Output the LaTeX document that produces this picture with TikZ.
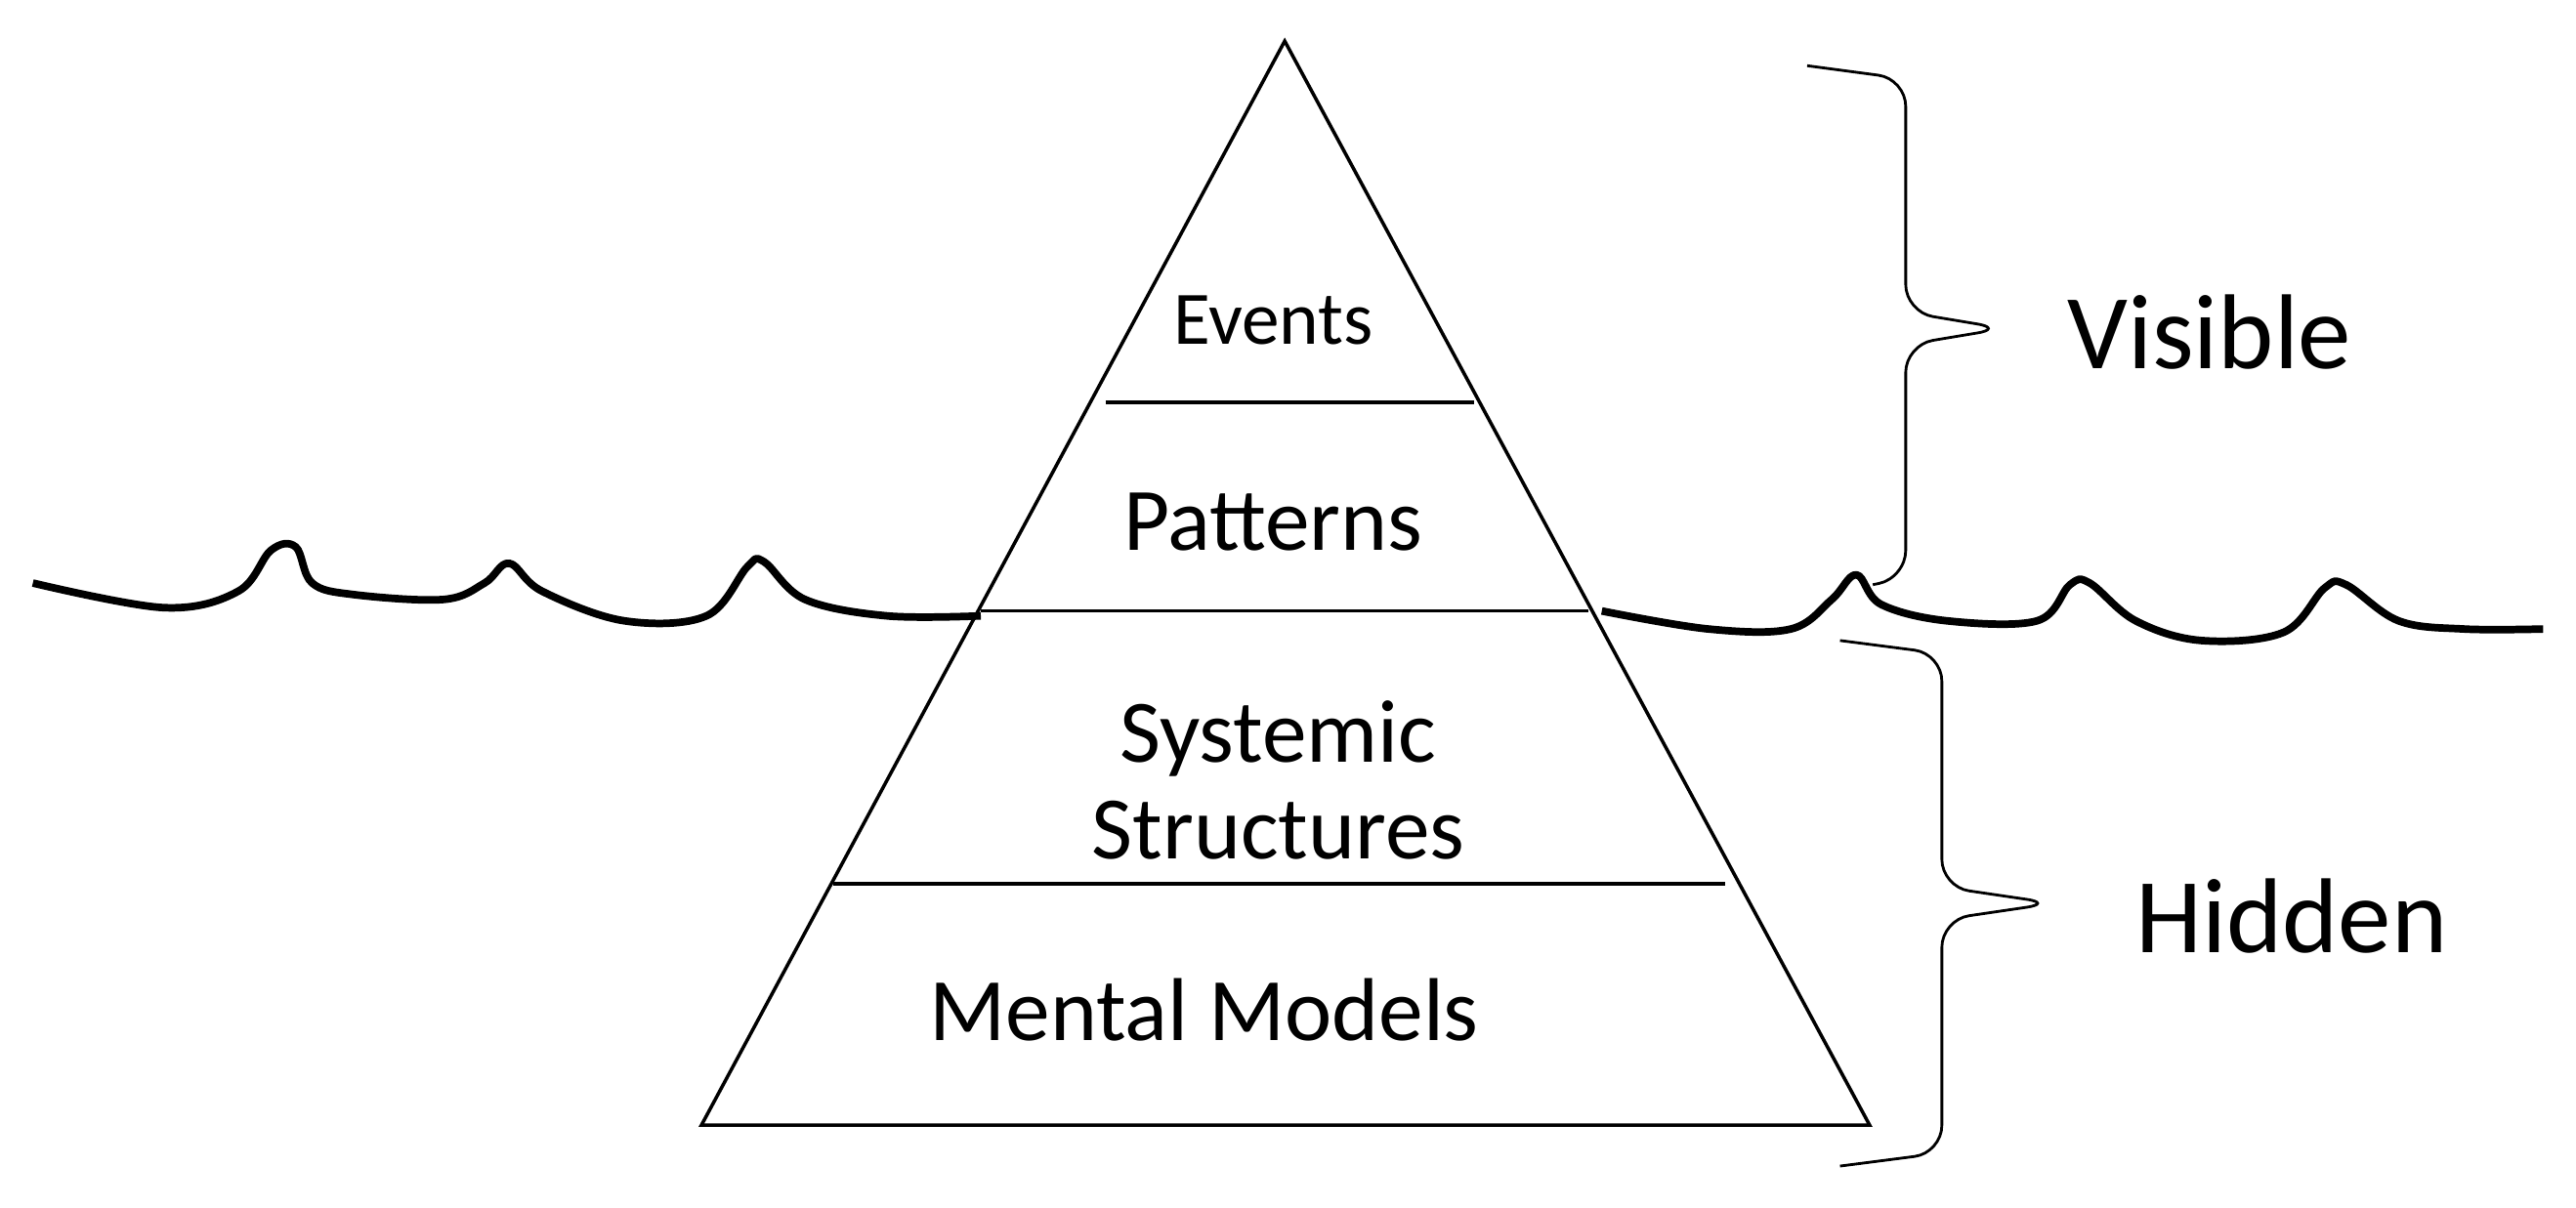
\documentclass[tikz,border=0pt]{standalone}
\usepackage{fontspec}
\setmainfont{Carlito}
\usetikzlibrary{positioning,calc}

\begin{document}
\begin{tikzpicture}[x=0.01682cm, y=-0.01682cm,
    layer/.style={font=\fontsize{26}{30}\selectfont, align=center},
    side/.style={font=\fontsize{31}{36}\selectfont},
    bracket/.style={thick, rounded corners=8pt}]
\useasboundingbox (0,0) rectangle (1568,735);

% Pyramid
\coordinate (apex) at (782,25);
\coordinate (bl) at (427,685);
\coordinate (br) at (1138,685);
\draw[line width=1pt] (apex) -- (bl) -- (br) -- cycle;
\draw[line width=1pt] (673,245) -- (897,245);
\draw[line width=1pt] (597,372) -- (967,372);
\draw[line width=1pt] (507,538) -- (1050,538);

% Layer labels
\node[layer, font=\fontsize{22}{26}\selectfont] (events) at (775,195) {Events};
\node[layer] (patterns) at (775,318) {Patterns};
\node[layer] (systemic) at (778,475) {Systemic\\[-2pt]Structures};
\node[layer] (mental) at (733,615) {Mental Models};

% Water line
\draw[line width=2.2pt, line join=round] plot[smooth, tension=0.6] coordinates {
    (20,355) (100,370) (145,360) (165,335) (180,333) (190,355) (215,362)
    (270,365) (295,355) (310,343) (330,360) (380,378) (430,375) (455,345)
    (465,342) (490,365) (540,375) (597,375)};
\draw[line width=2.2pt, line join=round] plot[smooth, tension=0.6] coordinates {
    (975,372) (1040,383) (1090,383) (1115,365) (1130,350) (1145,368)
    (1185,378) (1240,378) (1260,356) (1272,355) (1300,378) (1340,390)
    (1390,385) (1415,358) (1428,356) (1460,378) (1500,383) (1548,383)};

% Braces
\draw[bracket] (1100,40) -- (1160,48) -- (1160,190) -- (1220,200)
    -- (1160,210) -- (1160,352) -- (1140,356);
\draw[bracket] (1120,390) -- (1182,398) -- (1182,540) -- (1250,550)
    -- (1182,560) -- (1182,702) -- (1120,710);
\node[side] (visible) at (1345,202) {Visible};
\node[side] (hidden) at (1395,558) {Hidden};

\end{tikzpicture}
\end{document}
